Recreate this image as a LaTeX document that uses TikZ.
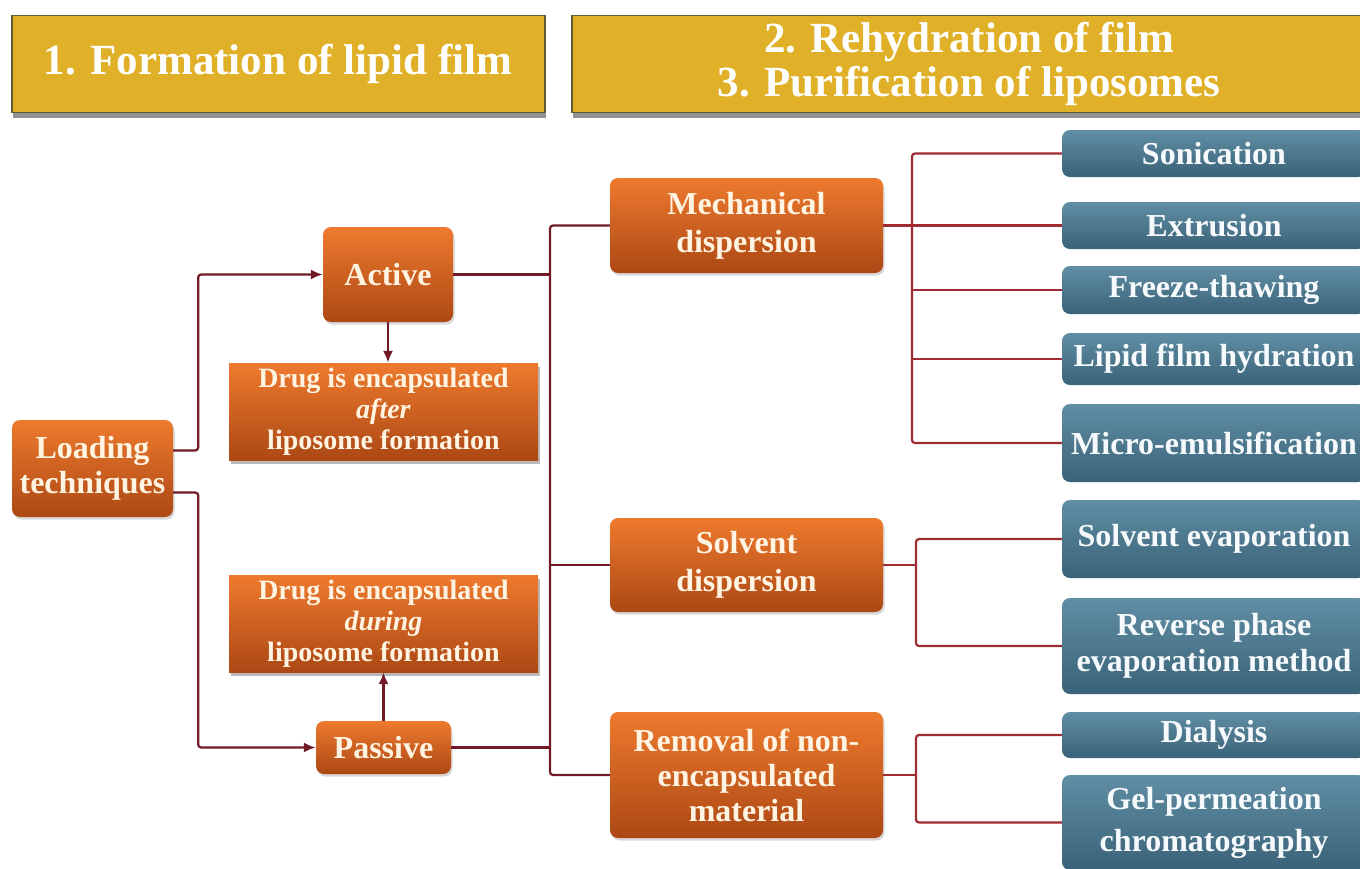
\documentclass[tikz,border=0pt]{standalone}
\usepackage{fontspec}
\setmainfont{Liberation Serif}
\usetikzlibrary{arrows.meta,shadows,calc}
\definecolor{otop}{RGB}{238,122,46}
\definecolor{obot}{RGB}{172,72,20}
\definecolor{otxt}{RGB}{255,244,226}
\definecolor{btop}{RGB}{96,142,164}
\definecolor{bbot}{RGB}{58,98,120}
\definecolor{btxt}{RGB}{246,250,252}
\definecolor{gold}{RGB}{224,177,40}
\definecolor{goldline}{RGB}{96,92,52}
\definecolor{lnleft}{RGB}{112,26,40}
\definecolor{lnright}{RGB}{158,44,50}
\tikzset{
  obox/.style={rounded corners=8pt, top color=otop, bottom color=obot, text=otxt,
    font=\bfseries\fontsize{32}{37}\selectfont, align=center, inner sep=0pt,
    drop shadow={shadow xshift=1.5pt, shadow yshift=-2.5pt, opacity=0.3}},
  dbox/.style={top color=otop, bottom color=obot, text=otxt,
    font=\bfseries\fontsize{28}{31}\selectfont, align=center, inner sep=0pt,
    drop shadow={shadow xshift=2pt, shadow yshift=-4pt, opacity=0.55}},
  bbox/.style={rounded corners=8pt, top color=btop, bottom color=bbot, text=btxt,
    font=\bfseries\fontsize{32}{37}\selectfont, align=center, inner sep=0pt,
    minimum width=304},
  hbox/.style={fill=gold, draw=goldline, line width=1.2pt, inner sep=0pt,
    drop shadow={shadow xshift=1pt, shadow yshift=-5pt, opacity=0.7, fill=black!60}},
  htxt/.style={text=white, font=\bfseries\fontsize{43}{44}\selectfont, align=center, inner sep=0pt},
  arr/.style={draw=lnleft, line width=2.2pt, rounded corners=3pt, -{Latex[length=12pt,width=10pt]}},
  lnl/.style={draw=lnleft, line width=2.2pt, rounded corners=3pt},
  lnr/.style={draw=lnright, line width=2.2pt, rounded corners=3pt},
}
\begin{document}
\begin{tikzpicture}[x=1pt,y=-1pt]
\useasboundingbox (0,0) rectangle (1360,868);
\fill[white] (0,0) rectangle (1360,868);
% headers
\node[hbox, minimum width=533, minimum height=97] (h1) at (278.5,64) {};
\node[htxt] (h1t) at (278,64) {1. Formation of lipid film};
\node[hbox, minimum width=794, minimum height=97] (h2) at (969,64) {};
\node[htxt] (h2t) at (969,64) {2. Rehydration of film\\3. Purification of liposomes};
% left part
\node[obox, minimum width=161, minimum height=97, font=\bfseries\fontsize{32}{35}\selectfont] (lt) at (92.5,468.5) {Loading\\techniques};
\node[obox, minimum width=130, minimum height=95] (act) at (388,274.5) {Active};
\node[dbox, minimum width=309, minimum height=97] (after) at (383.5,411.5) {Drug is encapsulated\\\textit{after}\\liposome formation};
\node[dbox, minimum width=309, minimum height=97] (during) at (383.5,623.5) {Drug is encapsulated\\\textit{during}\\liposome formation};
\node[obox, minimum width=135, minimum height=53] (pas) at (383.5,747.5) {Passive};
% middle
\node[obox, minimum width=273, minimum height=95, font=\bfseries\fontsize{32}{38}\selectfont] (mech) at (746.5,225.5) {Mechanical\\dispersion};
\node[obox, minimum width=273, minimum height=94, font=\bfseries\fontsize{32}{38}\selectfont] (sol) at (746.5,565) {Solvent\\dispersion};
\node[obox, minimum width=273, minimum height=126, font=\bfseries\fontsize{32}{35}\selectfont] (rem) at (746.5,775) {Removal of non-\\encapsulated\\material};
% right
\node[bbox, minimum height=47] (son) at (1214,153.5) {Sonication};
\node[bbox, minimum height=47] (ext) at (1214,225.5) {Extrusion};
\node[bbox, minimum height=48] (fre) at (1214,290) {Freeze-thawing};
\node[bbox, minimum height=52] (lip) at (1214,359) {Lipid film hydration};
\node[bbox, minimum height=78] (mic) at (1214,443) {Micro-emulsification};
\node[bbox, minimum height=78] (sev) at (1214,539) {Solvent evaporation};
\node[bbox, minimum height=96, font=\bfseries\fontsize{32}{36}\selectfont] (rev) at (1214,646) {Reverse phase\\evaporation method};
\node[bbox, minimum height=95, font=\bfseries\fontsize{32}{42}\selectfont] (gel) at (1214,822.5) {Gel-permeation\\chromatography};
\node[bbox, minimum height=46] (dia) at (1214,735) {Dialysis};
% spine coordinates
\coordinate (s1) at (550,0);
\coordinate (s2) at (912,0);
\coordinate (s3) at (916,0);
% left connectors
\draw[arr] ($(lt.east)+(0,-18)$) -- ++(25,0) |- (act.west);
\draw[arr] ($(lt.east)+(0,24)$) -- ++(25,0) |- (pas.west);
\draw[arr] (act.south) -- (act.south |- after.north);
\draw[arr] (pas.north) -- (during.south);
\draw[lnl] (act.east) -- (act.east -| s1);
\draw[lnl] (pas.east) -- (pas.east -| s1);
\draw[lnl] (mech.west) -- (mech.west -| s1) |- (rem.west);
\draw[lnl] (sol.west) -- (sol.west -| s1);
% right connectors
\draw[lnr] (mech.east) -- (mech.east -| s2);
\draw[lnr] (son.west) -- (son.west -| s2) |- (mic.west);
\draw[lnr] (ext.west) -- (ext.west -| s2);
\draw[lnr] (fre.west) -- (fre.west -| s2);
\draw[lnr] (lip.west) -- (lip.west -| s2);
\draw[lnr] (sol.east) -- (sol.east -| s3);
\draw[lnr] (sev.west) -- (sev.west -| s3) |- (rev.west);
\draw[lnr] (rem.east) -- (rem.east -| s3);
\draw[lnr] (dia.west) -- (dia.west -| s3) |- (gel.west);
\end{tikzpicture}
\end{document}
